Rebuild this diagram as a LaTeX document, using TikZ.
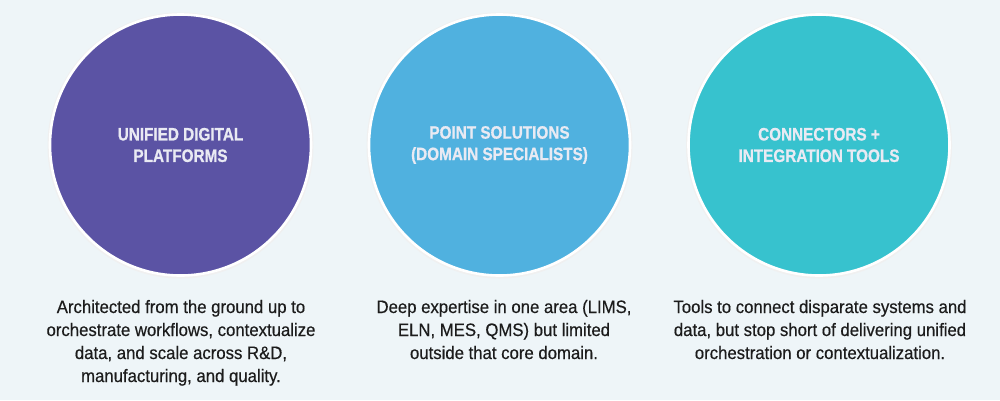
\documentclass[tikz,border=0pt]{standalone}
\usepackage{fontspec}
\setmainfont{Liberation Sans}
\newfontfamily\bodyfont[FakeStretch=0.93, FakeBold=0.4]{Liberation Sans}
\newfontfamily\titlefont[FakeStretch=0.85, FakeBold=0.8]{Liberation Sans Bold}
\definecolor{bg}{HTML}{EEF5F8}
\definecolor{cpurple}{HTML}{5B53A4}
\definecolor{cpurpleE}{HTML}{7169B2}
\definecolor{cblue}{HTML}{50B1DF}
\definecolor{cblueE}{HTML}{6EC1E7}
\definecolor{cteal}{HTML}{37C2CE}
\definecolor{ctealE}{HTML}{5ECDD7}
\definecolor{titletext}{HTML}{E9EAF3}
\definecolor{bodytext}{HTML}{1C1C1C}
\pgfdeclareradialshading{edgepurple}{\pgfpoint{0bp}{0bp}}{color(0bp)=(cpurple); color(43bp)=(cpurple); color(50bp)=(cpurpleE)}
\pgfdeclareradialshading{edgeblue}{\pgfpoint{0bp}{0bp}}{color(0bp)=(cblue); color(43bp)=(cblue); color(50bp)=(cblueE)}
\pgfdeclareradialshading{edgeteal}{\pgfpoint{0bp}{0bp}}{color(0bp)=(cteal); color(43bp)=(cteal); color(50bp)=(ctealE)}
\tikzset{
  disc/.style={circle, minimum size=261, inner sep=0, draw=white, line width=2.6,
    text=titletext, align=center, font=\titlefont\fontsize{18}{21.5}\selectfont},
  halo/.style={circle, minimum size=266, inner sep=0, fill=black!6, draw=none},
  body/.style={anchor=base, align=center, inner sep=0, text=bodytext,
    font=\bodyfont\fontsize{18}{23}\selectfont}
}
\begin{document}
\begin{tikzpicture}[x=1pt, y=-1pt]
\fill[bg] (0,0) rectangle (1000,400);
\useasboundingbox (0,0) rectangle (1000,400);
\node[halo] (h1) at (180.5,145.5) {};
\node[halo] (h2) at (499.5,145.5) {};
\node[halo] (h3) at (819,145.5) {};
\node[disc, shading=edgepurple] (c1) at (180.5,145) {UNIFIED DIGITAL\\PLATFORMS};
\node[disc, shading=edgeblue] (c2) at (499.5,145) {POINT SOLUTIONS\\(DOMAIN SPECIALISTS)};
\node[disc, shading=edgeteal] (c3) at (819,145) {CONNECTORS +\\INTEGRATION TOOLS};
\node[body] (t1) at (181,382) {Architected from the ground up to\\orchestrate workflows, contextualize\\data, and scale across R\&D,\\manufacturing, and quality.};
\node[body] (t2) at (504,359) {Deep expertise in one area (LIMS,\\ELN, MES, QMS) but limited\\outside that core domain.};
\node[body] (t3) at (820,359) {Tools to connect disparate systems and\\data, but stop short of delivering unified\\orchestration or contextualization.};
\end{tikzpicture}
\end{document}
